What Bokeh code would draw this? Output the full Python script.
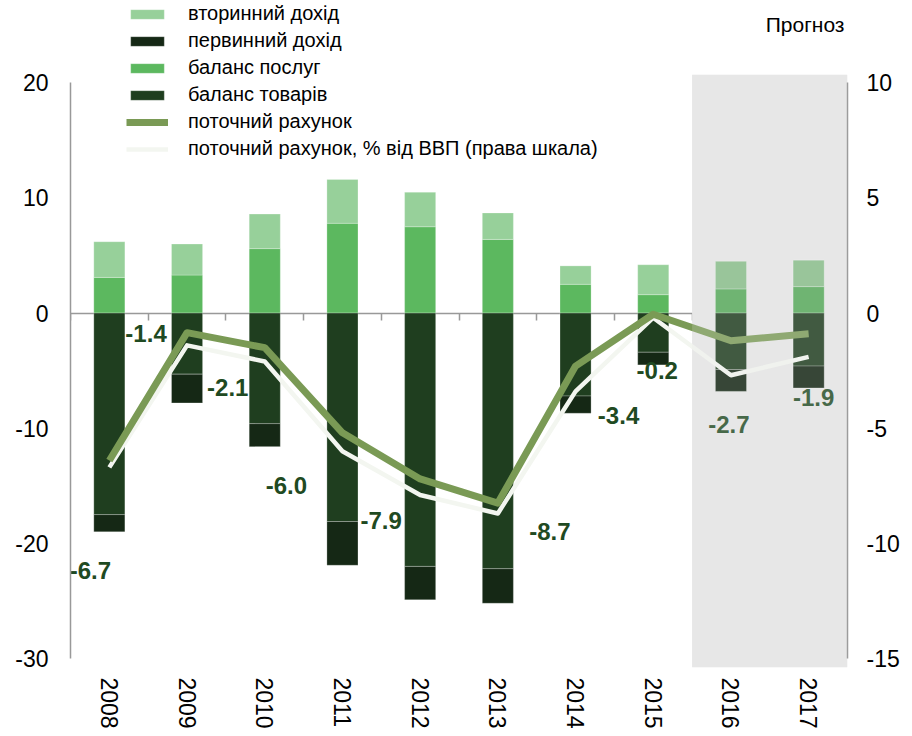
from bokeh.plotting import figure
from bokeh.models import (Range1d, LinearAxis, FixedTicker,
                          BoxAnnotation, Legend, LegendItem, Label, ColumnDataSource)
from bokeh.transform import stack
from bokeh.core.properties import value
from bokeh.embed import file_html
from bokeh.resources import INLINE

# ---------------- data ----------------
years = ["2008", "2009", "2010", "2011", "2012", "2013", "2014", "2015", "2016", "2017"]
forecast_years = ["2016", "2017"]
secondary_income = [3.1, 2.7, 3.0, 3.8, 3.0, 2.3, 1.6, 2.6, 2.4, 2.3]
primary_income = [-1.5, -2.5, -2.0, -3.8, -2.9, -3.0, -1.5, -1.1, -1.9, -1.9]
services_balance = [3.1, 3.3, 5.6, 7.8, 7.5, 6.4, 2.5, 1.6, 2.1, 2.3]
goods_balance = [-17.5, -5.3, -9.6, -18.1, -22.0, -22.2, -7.2, -3.4, -4.9, -4.6]
current_account = [-12.8, -1.7, -3.0, -10.4, -14.4, -16.5, -4.6, -0.1, -2.4, -1.8]
current_account_pct = [-6.7, -1.4, -2.1, -6.0, -7.9, -8.7, -3.4, -0.2, -2.7, -1.9]
left_ticks = [-30, -20, -10, 0, 10, 20]
right_ticks = [-15, -10, -5, 0, 5, 10]

# label placement (screen px offsets from the % point)
label_dx = [-19, -41, -37, -56, -39, 52, 43, 4, -2, 5]
label_dy = [103, -12, 26, 34, 25, 18, 24, 53, 49, 41]

FONT = "Liberation Sans"
n = len(years)
xpos = list(range(n))
is_fc = [y in forecast_years for y in years]


def pick(normal, fc):
    return [fc if f else normal for f in is_fc]


src = ColumnDataSource(dict(
    x=xpos,
    secondary=secondary_income,
    primary=primary_income,
    services=services_balance,
    goods=goods_balance,
    ca=current_account,
    pct=current_account_pct,
    pct_txt=[f"{v:.1f}" for v in current_account_pct],
    dx=label_dx,
    dy=label_dy,
    c_sec=pick("#97d09a", "#86bd88"),
    c_serv=pick("#5cb85f", "#52a856"),
    c_goods=pick("#1f3e1f", "#183818"),
    c_prim=pick("#152815", "#0c1f0c"),
))

# plot frame reaches the top of the canvas so the legend and note are not clipped;
# the axes themselves are bounded to their tick span
y_lo, y_hi = -30.78, 27.15
shade_top = 20.7
p = figure(
    x_range=Range1d(-0.5, n - 0.5),
    y_range=Range1d(y_lo, y_hi),
    width=912, height=736,
    output_backend="svg", toolbar_location=None,
    min_border_left=70, min_border_right=65, min_border_top=0, min_border_bottom=69,
)
p.extra_y_ranges = {"pct": Range1d(y_lo / 2, y_hi / 2)}
p.outline_line_color = None
p.xgrid.visible = False
p.ygrid.visible = False
p.background_fill_color = "white"
p.border_fill_color = "white"

# forecast shading (under everything)
i0 = years.index(forecast_years[0])
shade = BoxAnnotation(left=i0 - 0.5, right=n - 0.5, top=shade_top, fill_color="#e8e8e8",
                      fill_alpha=1.0, line_color=None, level="underlay")
p.add_layout(shade)

# zero axis with ticks between categories
edge_ticks = [i - 0.5 for i in range(n + 1)]
zero_axis = LinearAxis(fixed_location=0,
                       ticker=FixedTicker(ticks=edge_ticks),
                       major_label_overrides={t: "" for t in edge_ticks},
                       major_tick_in=7, major_tick_out=0, minor_tick_in=0, minor_tick_out=0,
                       major_tick_line_color="#999999", major_tick_line_width=1.5,
                       axis_line_color="#999999", axis_line_width=1.5,
                       major_label_standoff=0)
zero_axis.level = "underlay"
p.add_layout(zero_axis, "above")

# bars
bw = 0.4
bar_line = dict(line_color="white", line_alpha=0.25, line_width=1)
r_serv = p.vbar(x="x", width=bw, bottom=0, top="services", fill_color="c_serv", source=src, **bar_line)
r_sec = p.vbar(x="x", width=bw, bottom=stack("services"), top=stack("services", "secondary"),
               fill_color="c_sec", source=src, **bar_line)
r_goods = p.vbar(x="x", width=bw, bottom=0, top="goods", fill_color="c_goods", source=src, **bar_line)
r_prim = p.vbar(x="x", width=bw, bottom=stack("goods"), top=stack("goods", "primary"),
                fill_color="c_prim", source=src, **bar_line)

# lines
r_pct = p.line(x="x", y="pct", y_range_name="pct", line_color="#f3f6f0", line_width=4.5,
               line_join="round", source=src)
r_ca = p.line(x="x", y="ca", line_color="#7a9a55", line_width=7, line_join="round", source=src)

# value labels
p.text(x="x", y="pct", y_range_name="pct", text="pct_txt", x_offset="dx", y_offset="dy",
       text_align="center", text_baseline="middle", text_font=value(FONT), text_font_style="bold",
       text_font_size="24px", text_color="#1f4a22", source=src)

# light veil over forecast period
veil = BoxAnnotation(left=i0 - 0.5, right=n - 0.5, top=shade_top, fill_color="#e8e8e8",
                     fill_alpha=0.2, line_color=None)
p.add_layout(veil)

# axes
xa = p.below[0]
xa.ticker = FixedTicker(ticks=xpos)
xa.major_label_overrides = {i: y for i, y in zip(xpos, years)}
xa.axis_line_color = None
xa.major_tick_line_color = None
xa.minor_tick_line_color = None
xa.major_tick_out = 0
xa.major_label_orientation = "vertical"
xa.major_label_standoff = 10
xa.major_label_text_font = FONT
xa.major_label_text_font_size = "23px"
xa.major_label_text_color = "black"

ya = p.left[0]
ya.ticker = FixedTicker(ticks=left_ticks)
ya.major_label_overrides = {t: str(t) for t in left_ticks}
ya.bounds = (left_ticks[0], left_ticks[-1])
ya.axis_line_color = "#999999"
ya.axis_line_width = 1.5
ya.major_tick_line_color = None
ya.minor_tick_line_color = None
ya.major_tick_out = 0
ya.major_label_standoff = 22
ya.major_label_text_font = FONT
ya.major_label_text_font_size = "23px"
ya.major_label_text_color = "black"

yr = LinearAxis(y_range_name="pct", ticker=FixedTicker(ticks=right_ticks),
                major_label_overrides={t: str(t) for t in right_ticks},
                bounds=(right_ticks[0], right_ticks[-1]),
                axis_line_color="#999999", axis_line_width=1.5,
                major_tick_line_color=None, minor_tick_line_color=None, major_tick_out=0,
                major_label_standoff=19, major_label_text_font=FONT,
                major_label_text_font_size="23px", major_label_text_color="black")
p.add_layout(yr, "right")

# legend
legend = Legend(items=[
    LegendItem(label="вторинний дохід", renderers=[r_sec], index=0),
    LegendItem(label="первинний дохід", renderers=[r_prim], index=0),
    LegendItem(label="баланс послуг", renderers=[r_serv], index=0),
    LegendItem(label="баланс товарів", renderers=[r_goods], index=0),
    LegendItem(label="поточний рахунок", renderers=[r_ca]),
    LegendItem(label="поточний рахунок, % від ВВП (права шкала)", renderers=[r_pct]),
], location=(56, 507), border_line_color=None, background_fill_alpha=0,
    glyph_width=42, glyph_height=12, label_standoff=20, spacing=4, padding=0, margin=0,
    label_height=20, label_text_font=FONT, label_text_font_size="20px",
    label_text_baseline="middle", label_text_color="black")
p.add_layout(legend)

p.add_layout(Label(x=n - 0.5, y=shade_top, x_offset=-3, y_offset=50, text="Прогноз",
                   text_align="right", text_baseline="middle", text_font=FONT,
                   text_font_size="21px", text_color="black"))

open("out.html", "w").write(file_html(p, INLINE))
